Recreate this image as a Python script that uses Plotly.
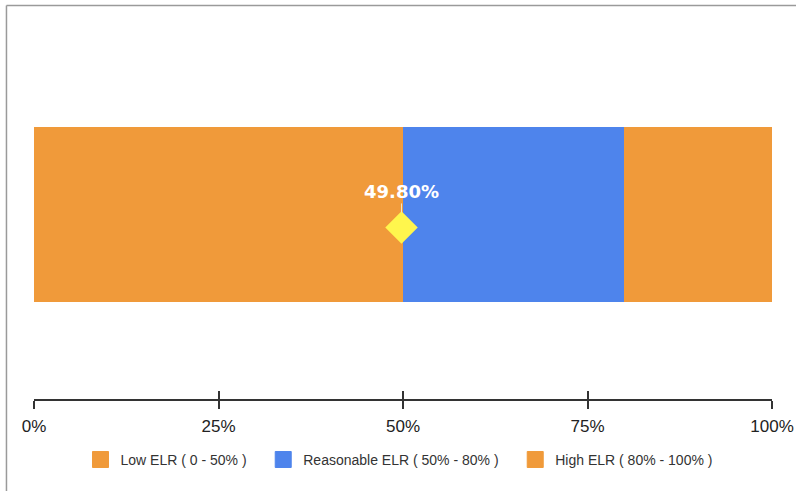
import plotly.graph_objects as go

# ---- data ----
segment_names = ["Low ELR ( 0 - 50% )", "Reasonable ELR ( 50% - 80% )", "High ELR ( 80% - 100% )"]
segment_sizes = [50, 30, 20]
segment_colors = ["#F09A3A", "#4E84EC", "#F09A3A"]
category = [0]
marker_value = [49.8]
marker_offset = [-0.074]
marker_label = "49.80%"
tick_values = [0, 25, 50, 75, 100]
tick_labels = ["0%", "25%", "50%", "75%", "100%"]

fig = go.Figure()

for name, size, color in zip(segment_names, segment_sizes, segment_colors):
    fig.add_trace(go.Bar(
        x=[size], y=category, orientation="h", name=name,
        marker=dict(color=color, line=dict(width=0)),
        width=1, showlegend=False, hoverinfo="skip",
    ))

n = len(segment_names)
for i, (name, color) in enumerate(zip(segment_names, segment_colors)):
    pad = "\u00a0\u00a0\u00a0" if i < n - 1 else ""
    # legend-only entry with larger square swatch
    fig.add_trace(go.Scatter(
        x=[None], y=[None], mode="markers", name=name + pad,
        marker=dict(symbol="square", size=16, color=color, line=dict(width=1, color=color)),
        showlegend=True,
    ))

fig.add_trace(go.Scatter(
    x=marker_value, y=marker_offset, mode="markers",
    marker=dict(symbol="diamond", size=25, color="#FFF64D", line=dict(width=0)),
    showlegend=False, hoverinfo="skip",
))

fig.add_annotation(
    x=marker_value[0], y=marker_offset[0], xref="x", yref="y",
    text="<b>" + marker_label + "</b>",
    showarrow=True, arrowhead=0, arrowwidth=1, arrowcolor="#F3E7C8",
    ax=0, ay=-36, standoff=15,
    font=dict(family="DejaVu Sans", size=18, color="white"),
)

axis_common = dict(
    range=[0, 100], tickvals=tick_values, ticktext=tick_labels,
    showgrid=False, zeroline=False, showline=True, linecolor="#333333", linewidth=2,
    tickcolor="#333333", tickwidth=2, ticklen=8,
)

fig.update_layout(
    width=796, height=491,
    margin=dict(l=34, r=24, t=30, b=92, autoexpand=False),
    paper_bgcolor="white", plot_bgcolor="white",
    barmode="stack", bargap=0,
    xaxis=dict(**axis_common, ticks="outside", automargin=False, ticklabelstandoff=3,
               tickfont=dict(family="Liberation Sans", size=17, color="#222222")),
    xaxis2=dict(**axis_common, ticks="inside", overlaying="x", anchor="y", side="bottom",
                showticklabels=False, matches="x"),
    yaxis=dict(range=[-1.054, 1.054], visible=False, fixedrange=True),
    legend=dict(orientation="h", x=0.4946, xanchor="center", y=-0.165, yanchor="middle",
                traceorder="normal",
                font=dict(family="Liberation Sans", size=14, color="#333333"),
                itemclick=False),
    showlegend=True,
    shapes=[
        dict(type="line", xref="paper", yref="paper", x0=-0.0373, x1=1.1, y0=1.0664, y1=1.0664,
             line=dict(color="#9A9A9A", width=1.5)),
        dict(type="line", xref="paper", yref="paper", x0=-0.0373, x1=-0.0373, y0=1.0664, y1=-0.3,
             line=dict(color="#9A9A9A", width=1.5)),
    ],
)

# dummy trace to activate xaxis2
fig.add_trace(go.Scatter(x=[None], y=[None], xaxis="x2", showlegend=False, hoverinfo="skip"))

fig.write_html("out.html")
